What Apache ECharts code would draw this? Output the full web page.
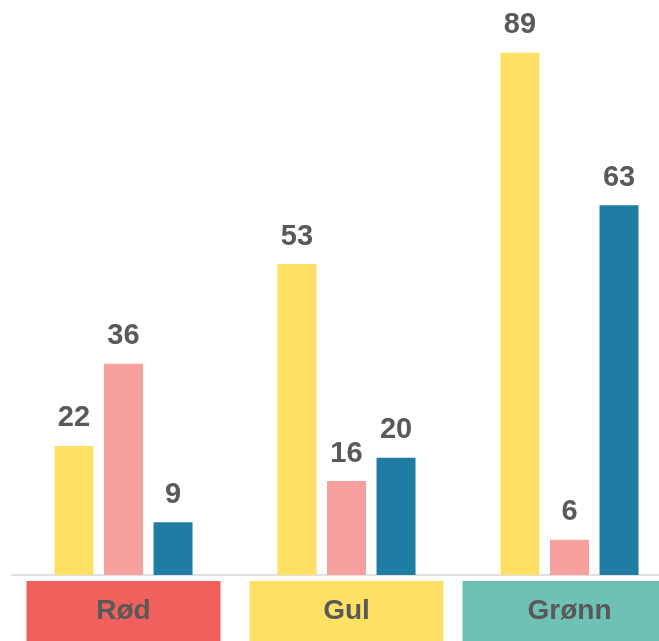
<!DOCTYPE html>
<html>
<head>
<meta charset="utf-8">
<script src="https://cdn.jsdelivr.net/npm/echarts@6/dist/echarts.min.js"></script>
<style>
  html, body { margin: 0; padding: 0; background: #fff; }
  #chart { width: 659px; height: 641px; }
</style>
</head>
<body>
<div id="chart"></div>
<script>
// categories and the three series (yellow, pink, blue)
const categories = ["Rød", "Gul", "Grønn"];
const yellowValues = [22, 53, 89];
const pinkValues = [36, 16, 6];
const blueValues = [9, 20, 63];

const seriesColors = ["#FDE064", "#F7A19E", "#1F7CA2"];
const boxColors = { "Rød": "#F0605C", "Gul": "#FDE064", "Grønn": "#6FC2B3" };
const richKeys = { "Rød": "r", "Gul": "g", "Grønn": "t" };

const chart = echarts.init(document.getElementById("chart"));

function boxStyle(color, width) {
    return {
        backgroundColor: color,
        width: width,
        height: 60,
        lineHeight: 60,
        align: "center",
        color: "#595959",
        fontSize: 28,
        fontWeight: "bold",
        fontFamily: "Liberation Sans, Arial, sans-serif"
    };
}

function barSeries(values, color) {
    return {
        type: "bar",
        data: values,
        barWidth: 39,
        barGap: "27%",
        itemStyle: { color: color },
        label: {
            show: true,
            position: "top",
            distance: 13,
            color: "#595959",
            fontSize: 29,
            fontWeight: "bold",
            fontFamily: "Liberation Sans, Arial, sans-serif"
        }
    };
}

chart.setOption({
    animation: false,
    grid: {
        left: 12,
        right: -22,
        top: 0,
        bottom: 66,
        containLabel: false,
        outerBoundsMode: "none"
    },
    xAxis: {
        type: "category",
        data: categories,
        axisTick: { show: false },
        axisLine: { lineStyle: { color: "#e0e0e0", width: 2 } },
        axisLabel: {
            margin: 6,
            interval: 0,
            hideOverlap: false,
            formatter: v => "{" + richKeys[v] + "|" + v + "}",
            rich: {
                r: boxStyle(boxColors["Rød"], 194),
                g: boxStyle(boxColors["Gul"], 194),
                t: boxStyle(boxColors["Grønn"], 214)
            }
        }
    },
    yAxis: {
        type: "value",
        min: 0,
        max: 98,
        show: false,
        splitLine: { show: false }
    },
    series: [
        barSeries(yellowValues, seriesColors[0]),
        barSeries(pinkValues, seriesColors[1]),
        barSeries(blueValues, seriesColors[2])
    ]
});
</script>
</body>
</html>
